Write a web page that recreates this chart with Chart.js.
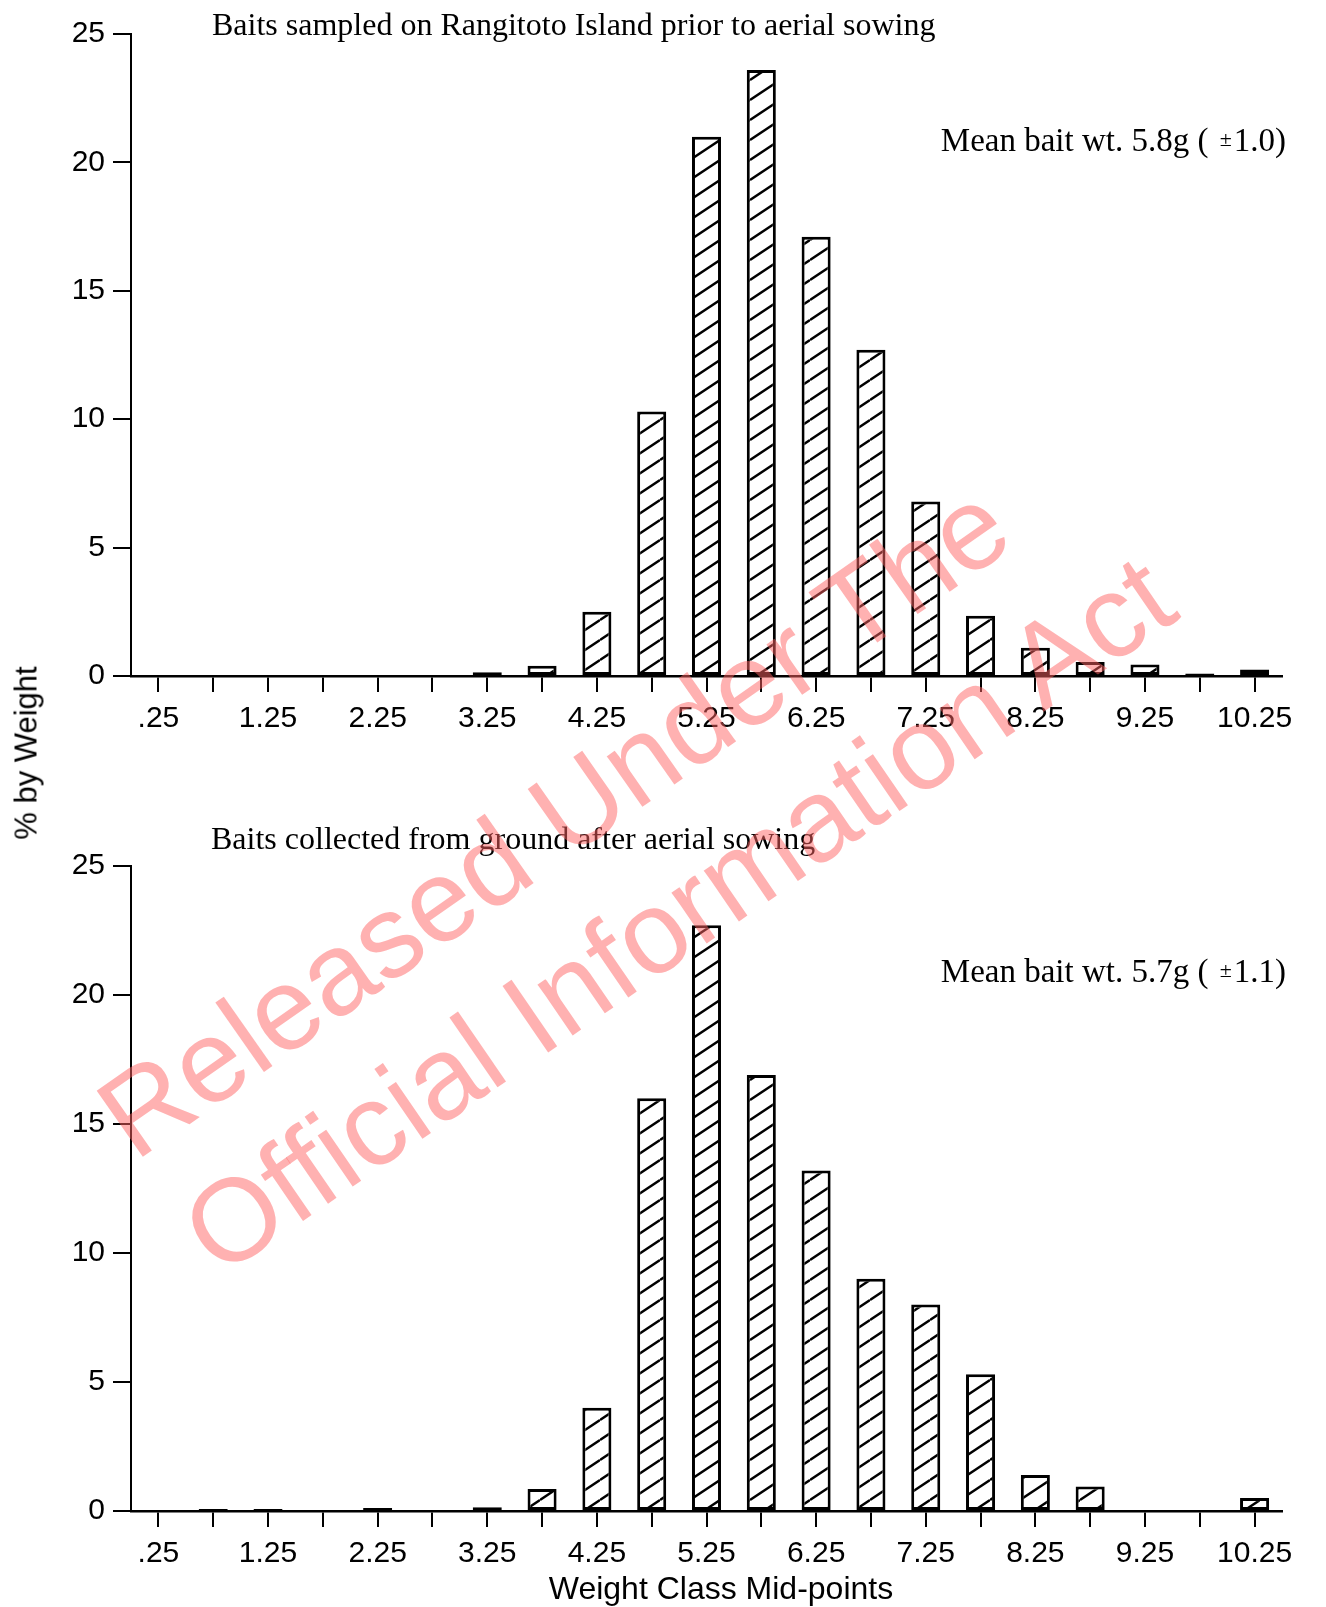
<!DOCTYPE html>
<html>
<head>
<meta charset="utf-8">
<script src="https://cdn.jsdelivr.net/npm/chart.js@4.4.1/dist/chart.umd.min.js"></script>
<style>
  html, body { margin: 0; padding: 0; background: #fff; }
  #page { position: relative; width: 1326px; height: 1607px; background: #fff; overflow: hidden; }
  .panel { position: absolute; left: 0; width: 1326px; }
  .serif { position: absolute; font-family: "Liberation Serif", "Times New Roman", serif; font-size: 32px; color: #000; white-space: nowrap; line-height: 1; }
  .mean { font-size: 33px; }
  .pm { font-size: 22px; vertical-align: 5px; margin: 0 2px 0 3px; }
  .sans { position: absolute; font-family: "Liberation Sans", Arial, Helvetica, sans-serif; color: #000; white-space: nowrap; line-height: 1; }
  .wm { position: absolute; font-family: "Liberation Sans", Arial, Helvetica, sans-serif; font-size: 117px; color: rgba(255, 100, 100, 0.5); white-space: nowrap; line-height: 1; pointer-events: none; transform-origin: 50% 50%; }
</style>
</head>
<body>
<div id="page">
  <div class="panel" style="top:0;height:760px;"><canvas id="top" width="1326" height="760"></canvas></div>
  <div class="panel" style="top:800px;height:780px;"><canvas id="bottom" width="1326" height="780"></canvas></div>

  <div class="serif" style="left:212px;top:8px;">Baits sampled on Rangitoto Island prior to aerial sowing</div>
  <div class="serif mean" style="right:40px;top:124px;">Mean bait wt. 5.8g ( <span class="pm">±</span>1.0)</div>
  <div class="serif" style="left:211px;top:822px;">Baits collected from ground after aerial sowing</div>
  <div class="serif mean" style="right:40px;top:955px;">Mean bait wt. 5.7g ( <span class="pm">±</span>1.1)</div>

  <div class="sans" style="font-size:31px;left:26px;top:753px;transform:translate(-50%,-50%) rotate(-90deg);">% by Weight</div>
  <div class="sans" style="font-size:32px;left:721px;top:1588px;transform:translate(-50%,-50%);">Weight Class Mid-points</div>

  <div class="wm" style="left:553px;top:820px;transform:translate(-50%,-50%) rotate(-35deg);">Released Under The</div>
  <div class="wm" style="left:678px;top:914px;transform:translate(-50%,-50%) rotate(-34.5deg);">Official Information Act</div>
</div>
<script>
// ---- data ----
const categories = ['.25','.75','1.25','1.75','2.25','2.75','3.25','3.75','4.25','4.75','5.25','5.75','6.25','6.75','7.25','7.75','8.25','8.75','9.25','9.75','10.25'];
const xTickLabels = ['.25','1.25','2.25','3.25','4.25','5.25','6.25','7.25','8.25','9.25','10.25'];
const yTicks = [0, 5, 10, 15, 20, 25];
const beforeSowing = [0, 0, 0, 0, 0, 0, 0.15, 0.4, 2.5, 10.3, 21.0, 23.6, 17.1, 12.7, 6.8, 2.35, 1.1, 0.55, 0.45, 0.1, 0.25];
const afterSowing  = [0, 0.08, 0.08, 0, 0.12, 0, 0.15, 0.85, 4.0, 16.0, 22.7, 16.9, 13.2, 9.0, 8.0, 5.3, 1.4, 0.95, 0, 0, 0.5];

// ---- hatch pattern ----
function makeHatch() {
  const W = 30, H = 20;
  const c = document.createElement('canvas');
  c.width = W; c.height = H;
  const g = c.getContext('2d');
  g.fillStyle = '#fff';
  g.fillRect(0, 0, W, H);
  g.strokeStyle = '#000';
  g.lineWidth = 2.4;
  for (const dy of [-H, 0, H]) {
    g.beginPath();
    g.moveTo(0, H + dy);
    g.lineTo(W, 0 + dy);
    g.stroke();
  }
  return g.createPattern(c, 'repeat');
}

function makeChart(id, values, padTop, xHeight) {
  const ctx = document.getElementById(id).getContext('2d');
  return new Chart(ctx, {
    type: 'bar',
    data: {
      labels: categories,
      datasets: [{
        data: values,
        backgroundColor: makeHatch(),
        borderColor: '#000',
        borderWidth: 3,
        borderSkipped: false,
        categoryPercentage: 1.0,
        barPercentage: 0.53
      }]
    },
    options: {
      responsive: false,
      animation: false,
      devicePixelRatio: 1,
      layout: { padding: { top: padTop, right: 44, left: 0, bottom: 0 } },
      plugins: { legend: { display: false }, tooltip: { enabled: false }, title: { display: false } },
      scales: {
        x: {
          type: 'category',
          offset: true,
          grid: { offset: false, drawOnChartArea: false, drawTicks: true, tickLength: 16, color: '#000', lineWidth: 2 },
          border: { display: true, color: '#000', width: 2.5 },
          ticks: {
            autoSkip: false, maxRotation: 0, minRotation: 0, padding: 9, color: '#000',
            font: { family: '"Liberation Sans", Arial, sans-serif', size: 30 },
            callback: function (v, i) { const l = categories[i]; return xTickLabels.includes(l) ? l : ''; }
          },
          afterFit: function (s) { s.height = xHeight; }
        },
        y: {
          min: yTicks[0], max: yTicks[yTicks.length - 1],
          afterBuildTicks: function (s) { s.ticks = yTicks.map(v => ({ value: v })); },
          grid: { drawOnChartArea: false, drawTicks: true, tickLength: 18, color: '#000', lineWidth: 2 },
          border: { display: true, color: '#000', width: 2 },
          ticks: { padding: 8, color: '#000', font: { family: '"Liberation Sans", Arial, sans-serif', size: 30 } },
          afterFit: function (s) { s.width = 131; }
        }
      }
    }
  });
}

makeChart('top', beforeSowing, 34, 84);
makeChart('bottom', afterSowing, 66, 69);
</script>
</body>
</html>
